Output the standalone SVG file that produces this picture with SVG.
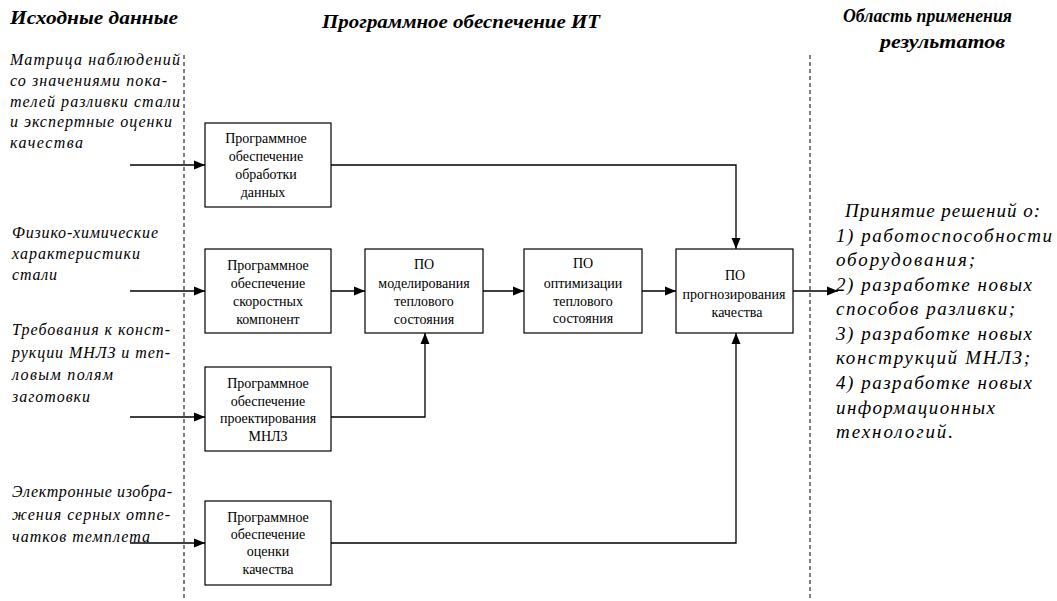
<svg xmlns="http://www.w3.org/2000/svg" width="1057" height="601" viewBox="0 0 1057 601" font-family="Liberation Serif, Times New Roman, serif">
<defs>
<marker id="ah" markerUnits="userSpaceOnUse" markerWidth="12" markerHeight="10" refX="11" refY="5" orient="auto">
<path d="M0,0.5 L11,5 L0,9.5 z" fill="#000"/>
</marker>
<style>
.box{fill:#fff;stroke:#000;stroke-width:1.2}
.bt{font-size:14px;fill:#000;text-anchor:middle}
.it{font-style:italic;font-size:16px;fill:#000}
.rt{font-style:italic;font-size:19px;fill:#000}
.hd{font-style:italic;font-weight:bold;font-size:18px;fill:#000}
.cn{fill:none;stroke:#000;stroke-width:1.3}
.dash{fill:none;stroke:#000;stroke-width:1;stroke-dasharray:4,3}
</style>
</defs>
<rect width="1057" height="601" fill="#fff"/>
<g id="headers" font-family="Liberation Serif, serif">
<text class="hd" x="10" y="24" textLength="168" lengthAdjust="spacingAndGlyphs">Исходные данные</text>
<text class="hd" x="322" y="28" textLength="278" lengthAdjust="spacingAndGlyphs">Программное обеспечение ИТ</text>
<text class="hd" x="843" y="22" textLength="169" lengthAdjust="spacingAndGlyphs">Область применения</text>
<text class="hd" x="880" y="48" textLength="125" lengthAdjust="spacingAndGlyphs">результатов</text>
</g>
<g id="dividers">
<line class="dash" x1="184" y1="55" x2="184" y2="601"/>
<line class="dash" x1="810" y1="55" x2="810" y2="601"/>
</g>
<g id="inputs" font-family="Liberation Serif, serif">
<text class="it" x="10" y="65" textLength="170" lengthAdjust="spacing">Матрица наблюдений</text>
<text class="it" x="10" y="86" textLength="157" lengthAdjust="spacing">со значениями пока-</text>
<text class="it" x="10" y="107" textLength="170" lengthAdjust="spacing">телей разливки стали</text>
<text class="it" x="10" y="127" textLength="162" lengthAdjust="spacing">и экспертные оценки</text>
<text class="it" x="10" y="148" textLength="73" lengthAdjust="spacing">качества</text>
<text class="it" x="12" y="238" textLength="146" lengthAdjust="spacing">Физико-химические</text>
<text class="it" x="12" y="259" textLength="128" lengthAdjust="spacing">характеристики</text>
<text class="it" x="12" y="280" textLength="45" lengthAdjust="spacing">стали</text>
<text class="it" x="12" y="335" textLength="158" lengthAdjust="spacing">Требования к конст-</text>
<text class="it" x="12" y="358" textLength="158" lengthAdjust="spacing">рукции МНЛЗ и теп-</text>
<text class="it" x="12" y="380" textLength="101" lengthAdjust="spacing">ловым полям</text>
<text class="it" x="12" y="402" textLength="78" lengthAdjust="spacing">заготовки</text>
<text class="it" x="12" y="497" textLength="160" lengthAdjust="spacing">Электронные изобра-</text>
<text class="it" x="12" y="520" textLength="158" lengthAdjust="spacing">жения серных отпе-</text>
<text class="it" x="12" y="542" textLength="138" lengthAdjust="spacing">чатков темплета</text>
</g>
<g id="connectors">
<path class="cn" marker-end="url(#ah)" d="M130,165 H205"/>
<path class="cn" marker-end="url(#ah)" d="M130,291 H205"/>
<path class="cn" marker-end="url(#ah)" d="M130,417 H205"/>
<path class="cn" marker-end="url(#ah)" d="M130,543 H205"/>
<path class="cn" marker-end="url(#ah)" d="M331,165 H736 V249"/>
<path class="cn" marker-end="url(#ah)" d="M331,291 H365"/>
<path class="cn" marker-end="url(#ah)" d="M483,291 H524"/>
<path class="cn" marker-end="url(#ah)" d="M641,291 H676"/>
<path class="cn" marker-end="url(#ah)" d="M793,291 H838"/>
<path class="cn" marker-end="url(#ah)" d="M331,417 H425 V333"/>
<path class="cn" marker-end="url(#ah)" d="M331,543 H736 V333"/>
</g>
<g id="node-processing" font-family="Liberation Serif, serif">
<rect class="box" x="205" y="123" width="126" height="84"/>
<text class="bt" x="266" y="143">Программное</text>
<text class="bt" x="266" y="161">обеспечение</text>
<text class="bt" x="266" y="179">обработки</text>
<text class="bt" x="263" y="197">данных</text>
</g>
<g id="node-speed" font-family="Liberation Serif, serif">
<rect class="box" x="205" y="249" width="126" height="84"/>
<text class="bt" x="268" y="270">Программное</text>
<text class="bt" x="268" y="288">обеспечение</text>
<text class="bt" x="268" y="306">скоростных</text>
<text class="bt" x="268" y="324">компонент</text>
</g>
<g id="node-modeling" font-family="Liberation Serif, serif">
<rect class="box" x="365" y="249" width="118" height="84"/>
<text class="bt" x="424" y="269">ПО</text>
<text class="bt" x="424" y="288">моделирования</text>
<text class="bt" x="424" y="306">теплового</text>
<text class="bt" x="424" y="324">состояния</text>
</g>
<g id="node-optimization" font-family="Liberation Serif, serif">
<rect class="box" x="524" y="249" width="118" height="84"/>
<text class="bt" x="583" y="268">ПО</text>
<text class="bt" x="583" y="288">оптимизации</text>
<text class="bt" x="583" y="306">теплового</text>
<text class="bt" x="583" y="323">состояния</text>
</g>
<g id="node-forecast" font-family="Liberation Serif, serif">
<rect class="box" x="676" y="249" width="117" height="84"/>
<text class="bt" x="735" y="280">ПО</text>
<text class="bt" x="734" y="299">прогнозирования</text>
<text class="bt" x="737" y="317">качества</text>
</g>
<g id="node-design" font-family="Liberation Serif, serif">
<rect class="box" x="205" y="367" width="126" height="84"/>
<text class="bt" x="268" y="388">Программное</text>
<text class="bt" x="268" y="406">обеспечение</text>
<text class="bt" x="268" y="423">проектирования</text>
<text class="bt" x="268" y="441">МНЛЗ</text>
</g>
<g id="node-quality" font-family="Liberation Serif, serif">
<rect class="box" x="205" y="501" width="126" height="84"/>
<text class="bt" x="268" y="522">Программное</text>
<text class="bt" x="268" y="539">обеспечение</text>
<text class="bt" x="268" y="556">оценки</text>
<text class="bt" x="268" y="574">качества</text>
</g>
<g id="results" font-family="Liberation Serif, serif">
<text class="rt" x="845" y="217" textLength="195" lengthAdjust="spacing">Принятие решений о:</text>
<text class="rt" x="836" y="242" textLength="216" lengthAdjust="spacing">1) работоспособности</text>
<text class="rt" x="836" y="266" textLength="139" lengthAdjust="spacing">оборудования;</text>
<text class="rt" x="836" y="291" textLength="196" lengthAdjust="spacing">2) разработке новых</text>
<text class="rt" x="836" y="315" textLength="179" lengthAdjust="spacing">способов разливки;</text>
<text class="rt" x="836" y="340" textLength="196" lengthAdjust="spacing">3) разработке новых</text>
<text class="rt" x="836" y="364" textLength="194" lengthAdjust="spacing">конструкций МНЛЗ;</text>
<text class="rt" x="836" y="389" textLength="196" lengthAdjust="spacing">4) разработке новых</text>
<text class="rt" x="836" y="414" textLength="159" lengthAdjust="spacing">информационных</text>
<text class="rt" x="836" y="438" textLength="117" lengthAdjust="spacing">технологий.</text>
</g>
</svg>
